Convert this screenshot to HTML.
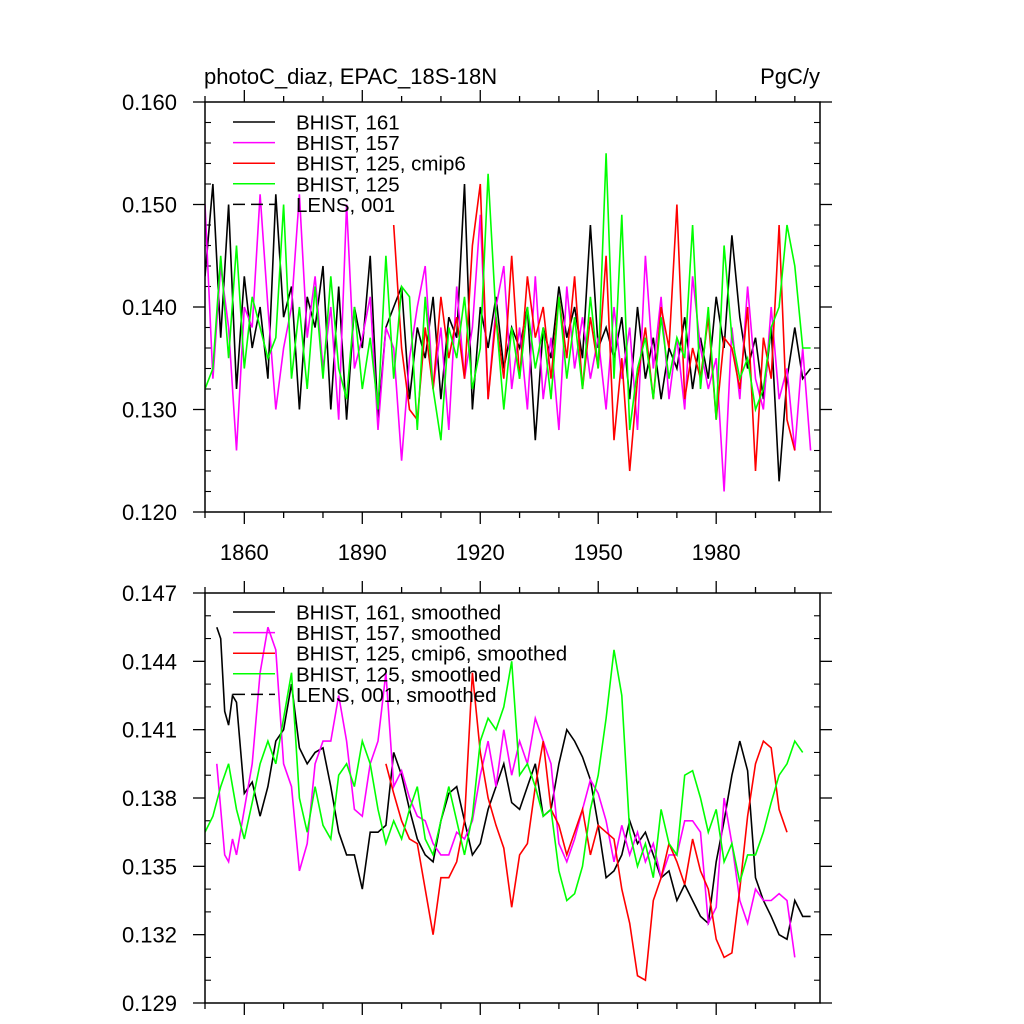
<!DOCTYPE html>
<html><head><meta charset="utf-8"><style>
html,body{margin:0;padding:0;background:#fff}
svg{display:block;font-family:"Liberation Sans",sans-serif}
</style></head><body>
<svg id="chart" width="1024" height="1024" viewBox="0 0 1024 1024"></svg>
<script>
// ---------- data ----------
const topStart = 1850, topStep = 2;
const topBlack = [0.143,0.152,0.137,0.150,0.132,0.143,0.136,0.140,0.133,0.151,0.139,0.142,0.130,0.141,0.138,0.144,0.130,0.142,0.129,0.140,0.136,0.145,0.129,0.138,0.140,0.142,0.131,0.138,0.135,0.141,0.131,0.139,0.137,0.152,0.130,0.140,0.136,0.141,0.134,0.138,0.136,0.140,0.127,0.138,0.135,0.142,0.137,0.140,0.135,0.148,0.136,0.138,0.135,0.139,0.131,0.140,0.133,0.137,0.131,0.136,0.134,0.139,0.132,0.137,0.133,0.141,0.136,0.147,0.139,0.134,0.137,0.131,0.138,0.123,0.133,0.138,0.133,0.134];
const topMagenta = [0.150,0.133,0.144,0.138,0.126,0.140,0.138,0.151,0.140,0.130,0.136,0.140,0.151,0.137,0.143,0.134,0.140,0.129,0.150,0.134,0.137,0.141,0.128,0.138,0.136,0.125,0.135,0.140,0.144,0.132,0.138,0.128,0.142,0.133,0.138,0.149,0.131,0.140,0.144,0.132,0.138,0.130,0.143,0.131,0.137,0.128,0.142,0.134,0.139,0.133,0.137,0.130,0.140,0.133,0.138,0.128,0.145,0.134,0.141,0.131,0.137,0.130,0.143,0.136,0.132,0.135,0.122,0.138,0.131,0.142,0.133,0.130,0.140,0.131,0.134,0.126,0.136,0.126];
const topRedStart = 1898;
const topRed = [0.148,0.136,0.130,0.129,0.138,0.132,0.141,0.135,0.139,0.133,0.146,0.152,0.131,0.139,0.133,0.145,0.133,0.143,0.137,0.140,0.133,0.141,0.135,0.143,0.132,0.139,0.134,0.145,0.127,0.135,0.124,0.133,0.138,0.131,0.140,0.136,0.150,0.131,0.136,0.133,0.139,0.129,0.137,0.136,0.132,0.140,0.124,0.137,0.133,0.148,0.129,0.126];
const topGreen = [0.132,0.134,0.145,0.135,0.146,0.134,0.141,0.138,0.135,0.137,0.150,0.133,0.140,0.132,0.142,0.133,0.143,0.134,0.131,0.140,0.132,0.137,0.130,0.145,0.133,0.142,0.141,0.128,0.141,0.132,0.127,0.138,0.135,0.141,0.132,0.136,0.153,0.139,0.130,0.138,0.133,0.140,0.134,0.138,0.131,0.141,0.133,0.139,0.132,0.141,0.134,0.155,0.133,0.149,0.128,0.134,0.137,0.131,0.139,0.133,0.137,0.135,0.148,0.132,0.140,0.129,0.146,0.137,0.133,0.135,0.130,0.132,0.138,0.140,0.148,0.144,0.136,0.136];

const botBlackYears = [1853,1854,1855,1856,1857,1858,1860,1862,1864,1866,1868,1870,1872,1874,1876,1878,1880,1882,1884,1886,1888,1890,1892,1894,1896,1898,1900,1902,1904,1906,1908,1910,1912,1914,1916,1918,1920,1922,1924,1926,1928,1930,1932,1934,1936,1938,1940,1942,1944,1946,1948,1950,1952,1954,1956,1958,1960,1962,1964,1966,1968,1970,1972,1974,1976,1978,1980,1982,1984,1986,1988,1990,1992,1994,1996,1998,2000,2002,2004];
const botBlack = [0.1455,0.145,0.1418,0.1412,0.1425,0.1422,0.1382,0.1387,0.1372,0.1385,0.1405,0.141,0.143,0.1402,0.1395,0.140,0.1402,0.1385,0.1365,0.1355,0.1355,0.134,0.1365,0.1365,0.1368,0.140,0.139,0.1375,0.1362,0.1355,0.1352,0.137,0.1382,0.1385,0.137,0.1355,0.136,0.1375,0.1385,0.1395,0.1378,0.1375,0.1385,0.1395,0.1372,0.1375,0.1395,0.141,0.1405,0.1398,0.1388,0.1368,0.1345,0.1348,0.1355,0.137,0.136,0.1365,0.1355,0.1345,0.1348,0.1335,0.1342,0.1335,0.1328,0.1325,0.1352,0.137,0.139,0.1405,0.1392,0.1345,0.1335,0.1328,0.132,0.1318,0.1335,0.1328,0.1328];
const botMagentaYears = [1853,1855,1856,1857,1858,1860,1862,1864,1866,1868,1870,1872,1874,1876,1878,1880,1882,1884,1886,1888,1890,1892,1894,1896,1898,1900,1902,1904,1906,1908,1910,1912,1914,1916,1918,1920,1922,1924,1926,1928,1930,1932,1934,1936,1938,1940,1942,1944,1946,1948,1950,1952,1954,1956,1958,1960,1962,1964,1966,1968,1970,1972,1974,1976,1978,1980,1982,1984,1986,1988,1990,1992,1994,1996,1998,2000];
const botMagenta = [0.1395,0.1355,0.1352,0.1362,0.1355,0.1375,0.1395,0.1435,0.1455,0.1445,0.1395,0.1385,0.1348,0.136,0.1395,0.1405,0.1405,0.1425,0.1405,0.1375,0.1372,0.1395,0.1405,0.1435,0.1385,0.1392,0.138,0.1372,0.137,0.136,0.1355,0.1355,0.1365,0.1362,0.137,0.139,0.1405,0.1385,0.141,0.139,0.1405,0.1395,0.1415,0.1405,0.1395,0.136,0.1352,0.1362,0.1375,0.1388,0.1382,0.137,0.1352,0.1368,0.1355,0.1365,0.1352,0.136,0.1345,0.1355,0.1355,0.137,0.137,0.1365,0.1325,0.1332,0.138,0.136,0.1335,0.1325,0.134,0.1335,0.1335,0.1338,0.1335,0.131];
const botRedYears = [1896,1898,1900,1902,1904,1906,1908,1910,1912,1914,1916,1918,1920,1922,1924,1926,1928,1930,1932,1934,1936,1938,1940,1942,1944,1946,1948,1950,1952,1954,1956,1958,1960,1962,1964,1966,1968,1970,1972,1974,1976,1978,1980,1982,1984,1986,1988,1990,1992,1994,1996,1998];
const botRed = [0.1395,0.1382,0.137,0.1362,0.136,0.134,0.132,0.1345,0.1345,0.1352,0.137,0.1435,0.140,0.138,0.1368,0.1358,0.1332,0.1355,0.136,0.1385,0.1405,0.1375,0.1368,0.1355,0.1365,0.1375,0.1355,0.1368,0.1365,0.1362,0.134,0.1325,0.1302,0.130,0.1335,0.1345,0.136,0.1352,0.1342,0.1362,0.1348,0.134,0.1318,0.131,0.1312,0.134,0.1372,0.1395,0.1405,0.1402,0.1375,0.1365];
const botGreenYears = [1850,1852,1854,1856,1858,1860,1862,1864,1866,1868,1870,1872,1874,1876,1878,1880,1882,1884,1886,1888,1890,1892,1894,1896,1898,1900,1902,1904,1906,1908,1910,1912,1914,1916,1918,1920,1922,1924,1926,1928,1930,1932,1934,1936,1938,1940,1942,1944,1946,1948,1950,1952,1954,1956,1958,1960,1962,1964,1966,1968,1970,1972,1974,1976,1978,1980,1982,1984,1986,1988,1990,1992,1994,1996,1998,2000,2002];
const botGreen = [0.1365,0.1372,0.1385,0.1395,0.1375,0.1362,0.1378,0.1395,0.1405,0.1395,0.1415,0.1435,0.138,0.1365,0.1385,0.1368,0.1362,0.139,0.1395,0.1385,0.1405,0.1395,0.1375,0.136,0.137,0.1362,0.1375,0.1385,0.1362,0.1355,0.137,0.1385,0.137,0.1355,0.1372,0.1405,0.1415,0.141,0.142,0.144,0.139,0.1395,0.1385,0.1372,0.1375,0.1348,0.1335,0.1338,0.135,0.1375,0.139,0.1415,0.1445,0.1425,0.1365,0.135,0.136,0.1345,0.1375,0.136,0.1355,0.139,0.1392,0.138,0.1365,0.1375,0.1352,0.136,0.1343,0.1355,0.1355,0.1365,0.1378,0.139,0.1395,0.1405,0.140];

const topYTicks = ["0.120","0.130","0.140","0.150","0.160"];
const botYTicks = ["0.129","0.132","0.135","0.138","0.141","0.144","0.147"];
const xTickYears = [1860,1890,1920,1950,1980];
const topLegend = ["BHIST, 161","BHIST, 157","BHIST, 125, cmip6","BHIST, 125","LENS, 001"];
const botLegend = ["BHIST, 161, smoothed","BHIST, 157, smoothed","BHIST, 125, cmip6, smoothed","BHIST, 125, smoothed","LENS, 001, smoothed"];

// ---------- drawing ----------
const NS="http://www.w3.org/2000/svg";
const svg=document.getElementById('chart');
function mk(tag,attrs,parent){const e=document.createElementNS(NS,tag);for(const k in attrs)e.setAttribute(k,attrs[k]);(parent||svg).appendChild(e);return e;}
const X0=205,X1=820,YR0=1850,YR1=2006.4;
function xs(y){return X0+(y-YR0)/(YR1-YR0)*(X1-X0);}

function panel(name,top,bot,ymin,ymax,yLabels,minorStep,showXLabels){
  const g=mk('g',{});
  
  
  const ys=v=>bot-(v-ymin)/(ymax-ymin)*(bot-top);
  const cid=name+'-clip';
  const cp=mk('clipPath',{id:cid},g);mk('rect',{x:X0,y:top,width:X1-X0,height:bot-top},cp);
  for(let yr=1850;yr<=2006;yr+=10){
    const x=xs(yr),maj=xTickYears.includes(yr);
    const L=maj?12:6;
    const t1=mk('line',{x1:x,x2:x,y1:bot,y2:bot+L,stroke:'#000','stroke-width':1.3},g);
    
    const t2=mk('line',{x1:x,x2:x,y1:top,y2:top-L,stroke:'#000','stroke-width':1.3},g);
    
  }
  if(showXLabels){xTickYears.forEach(yr=>{const t=mk('text',{x:xs(yr),y:bot+48,'font-size':22,'text-anchor':'middle'},g);t.textContent=yr;
    });}
  const nMinor=Math.round((ymax-ymin)/minorStep);
  const majEvery=Math.round((parseFloat(yLabels[1])-parseFloat(yLabels[0]))/minorStep);
  for(let i=0;i<=nMinor;i++){
    const v=ymin+i*minorStep,y=ys(v),maj=i%majEvery==0;
    if(maj){
      mk('line',{x1:X0-12,x2:X0,y1:y,y2:y,stroke:'#000','stroke-width':1.3},g);
      mk('line',{x1:X1,x2:X1+12,y1:y,y2:y,stroke:'#000','stroke-width':1.3},g);
    }else{
      mk('line',{x1:X0,x2:X0+6,y1:y,y2:y,stroke:'#000','stroke-width':1.1},g);
      mk('line',{x1:X1-6,x2:X1,y1:y,y2:y,stroke:'#000','stroke-width':1.1},g);
    }
  }
  yLabels.forEach(l=>{const t=mk('text',{x:177,y:ys(parseFloat(l))+8,'font-size':22,'text-anchor':'end'},g);t.textContent=l;
    });
  return {g,ys,cid};
}
function series(p,name,years,vals,color){
  const d=vals.map((v,i)=>(i?'L':'M')+xs(years[i]).toFixed(1)+','+p.ys(v).toFixed(1)).join('');
  const e=mk('path',{d:d,fill:'none',stroke:color,'stroke-width':1.6,'clip-path':'url(#'+p.cid+')'},p.g);
  
  
}
function yearsFrom(start,step,n){const a=[];for(let i=0;i<n;i++)a.push(start+i*step);return a;}
function legend(p,labels,y0,name){
  const cols=['#000','#ff00ff','#ff0000','#00ff00','#000'];
  const lg=mk('g',{},p.g);
  labels.forEach((l,i)=>{const y=y0+i*20.6;
    const ln=mk('line',{x1:233,x2:275,y1:y,y2:y,stroke:cols[i],'stroke-width':1.5},lg);
    if(i==4)ln.setAttribute('stroke-dasharray','12,6');
    
    const t=mk('text',{x:296,y:y+7.5,'font-size':20.5},lg);t.textContent=l;
    });
}

const pt=panel('top-panel',102,512,0.120,0.160,topYTicks,0.002,true);
series(pt,'series-bhist-161',yearsFrom(topStart,topStep,topBlack.length),topBlack,'#000');
series(pt,'series-bhist-157',yearsFrom(topStart,topStep,topMagenta.length),topMagenta,'#ff00ff');
series(pt,'series-bhist-125-cmip6',yearsFrom(topRedStart,topStep,topRed.length),topRed,'#ff0000');
series(pt,'series-bhist-125',yearsFrom(topStart,topStep,topGreen.length),topGreen,'#00ff00');
mk('rect',{x:X0,y:102,width:X1-X0,height:410,fill:'none',stroke:'#000','stroke-width':1.5},pt.g);
legend(pt,topLegend,122,'top-legend');

const pb=panel('bottom-panel',593,1003,0.129,0.147,botYTicks,0.001,false);
series(pb,'series-bhist-161-smoothed',botBlackYears,botBlack,'#000');
series(pb,'series-bhist-157-smoothed',botMagentaYears,botMagenta,'#ff00ff');
series(pb,'series-bhist-125-cmip6-smoothed',botRedYears,botRed,'#ff0000');
series(pb,'series-bhist-125-smoothed',botGreenYears,botGreen,'#00ff00');
mk('rect',{x:X0,y:593,width:X1-X0,height:410,fill:'none',stroke:'#000','stroke-width':1.5},pb.g);
legend(pb,botLegend,612,'bottom-legend');

const t1=mk('text',{x:204,y:84,'font-size':22});t1.textContent='photoC_diaz, EPAC_18S-18N';

const t2=mk('text',{x:820,y:84,'font-size':22,'text-anchor':'end'});t2.textContent='PgC/y';

</script>
</body></html>
